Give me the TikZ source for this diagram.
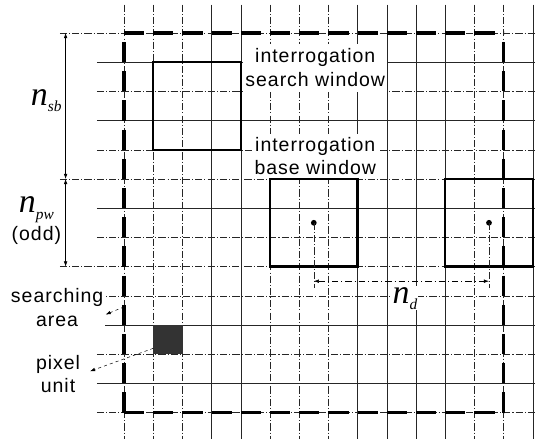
\documentclass[tikz,border=0pt]{standalone}
\usepackage{fontspec}
\setmainfont{Liberation Sans}[LetterSpace=5]
\newfontfamily\dimfont{Liberation Serif}
\usetikzlibrary{arrows.meta, calc}

% italic n with a small subscript
\newcommand\dimsym[1]{n\raisebox{-6pt}{\fontsize{15}{15}\selectfont #1}}

\tikzset{
  gridline/.style={line width=0.5pt, black!85},
  gridalt/.style={gridline, dash pattern=on 7pt off 2pt on 1pt off 2pt},
  border/.style={line width=3pt, dash pattern=on 0.69cm off 0.31cm},
  win/.style={draw, line width=2.2pt, minimum size=3cm, inner sep=0pt, outer sep=0pt},
  txt/.style={font=\fontsize{19}{23}\selectfont, align=center, fill=white, inner xsep=2pt, inner ysep=3pt},
  dimtxt/.style={font=\dimfont\itshape\fontsize{33}{35}\selectfont, inner sep=1pt},
  dimline/.style={line width=0.5pt, <->},
  leader/.style={line width=0.5pt, dashed, ->},
}

\begin{document}
\begin{tikzpicture}[>={Latex[length=5pt,width=3.5pt]}]
  \useasboundingbox (-4.247,1.130) rectangle (14.144,-13.938);
  \def\gl{-0.93} % left end of the grid
  \def\gr{14.07} % right end of the grid

  % grid of pixels
  \foreach \x in {3,4,8,9,10,11,14}
    \draw[gridline] (\x,0.97) -- (\x,-13.9);
  \foreach \x in {0,1,2,5,6,7,12,13}
    \draw[gridalt] (\x,0.97) -- (\x,-13.9);
  \foreach \y in {1,3,6,10,12}
    \draw[gridline] (\gl,-\y) -- (\gr,-\y);
  \foreach \y in {2,4,7,9,11,13}
    \draw[gridalt] (\gl,-\y) -- (\gr,-\y);
  \foreach \y in {0,5,8}
    \draw[gridalt] (-2.2,-\y) -- (\gr,-\y);

  \node (swlbl) [txt, inner ysep=5pt] at (6.55,-1.19) {interrogation\\search window};
  \node (bwlbl) [txt] at (6.55,-4.22) {interrogation\\base window};

  % windows
  \node (sw) [win] at (2.5,-2.5) {};
  \node (bw) [win] at (6.5,-6.5) {};
  \node (rw) [win] at (12.5,-6.5) {};
  \fill (bw.center) circle[radius=2.8pt];
  \fill (rw.center) circle[radius=2.8pt];

  \node (px) [fill=black!80, minimum size=1cm, inner sep=0pt, anchor=north west] at (1,-10) {};

  % searching area
  \draw[border] (0,0) -- (13,0);
  \draw[border] (0,-13) -- (13,-13);
  \draw[border, dash phase=0.69cm] (0,0) -- (0,-13);
  \draw[border, dash phase=0.69cm] (13,0) -- (13,-13);

  % dimensions
  \coordinate (s0) at (-2,0);
  \coordinate (s1) at (-2,-5);
  \coordinate (s2) at (-2,-8);
  \draw[dimline] (s0) -- (s1);
  \draw[dimline] (s1) -- (s2);
  \node (nsb) [dimtxt, anchor=base east] at (-2.1,-2.47) {\dimsym{sb}};
  \node (npw) [dimtxt, anchor=base] at (-3.0,-6.16) {\dimsym{pw}};
  \node (odd) [txt, fill=none, anchor=base] at (-3.0,-7.12) {(odd)};

  \coordinate (d1) at ($(bw.center)+(0,-2)$);
  \coordinate (d2) at ($(rw.center)+(0,-2)$);
  \draw[gridalt] (bw.center) -- ($(d1)+(0,-0.25)$);
  \draw[gridalt] (rw.center) -- ($(d2)+(0,-0.25)$);
  \draw[dimline, dash pattern=on 6pt off 3pt on 1pt off 3pt] (d1) -- (d2);
  \node (nd) [dimtxt, fill=white, anchor=base] at (9.62,-9.25) {\dimsym{d}};

  % labels with leaders
  \node (salbl) [txt] at (-2.29,-9.41) {searching\\area};
  \node (pulbl) [txt] at (-2.26,-11.68) {pixel\\unit};
  \coordinate (sa) at (0,-9.38);
  \draw[leader] (sa) -- (salbl.-8);
  \draw[leader, shorten >=8pt] (px.-150) -- (pulbl.east);
\end{tikzpicture}
\end{document}
